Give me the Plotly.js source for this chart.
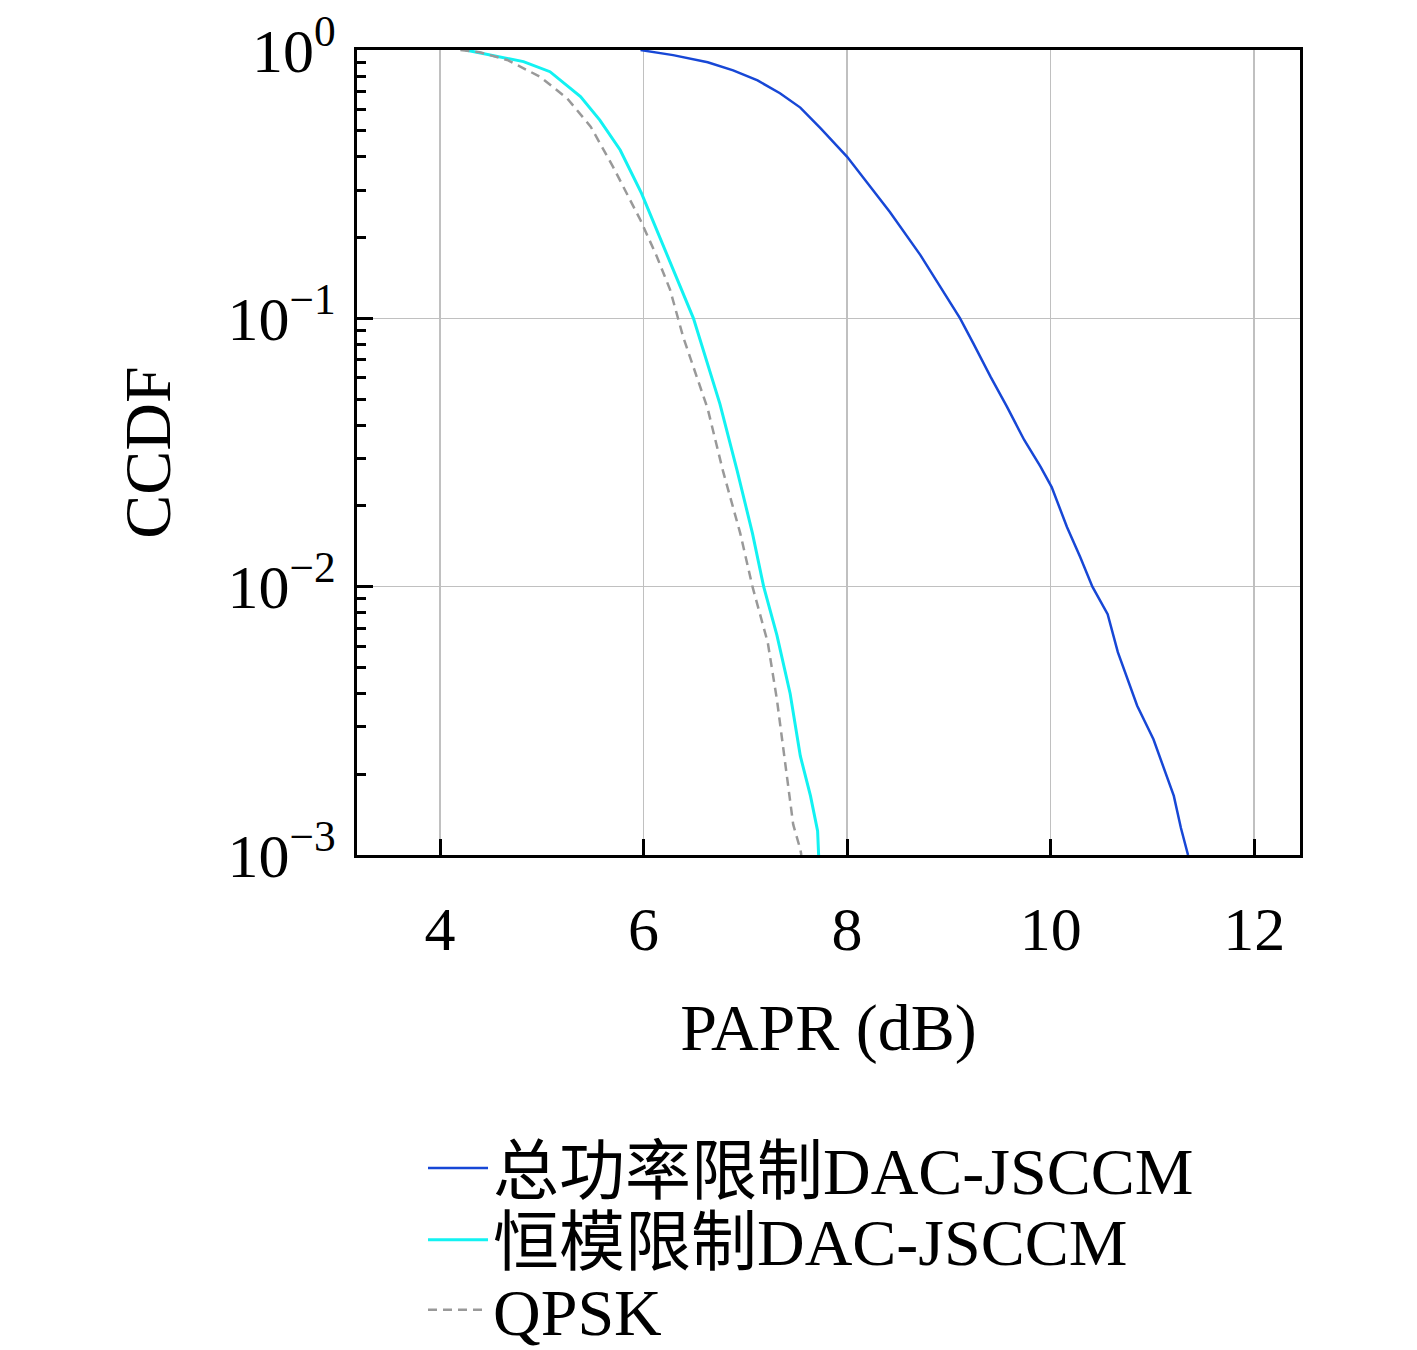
<!DOCTYPE html>
<html>
<head>
<meta charset="utf-8">
<script src="https://cdn.plot.ly/plotly-3.0.1.min.js"></script>
<style>
  body { margin: 0; background: #fff; }
  #chart { width: 1417px; height: 1350px; }
</style>
</head>
<body>
<div id="chart"></div>
<script>
// CCDF of PAPR
const totalPowerX = [5.97, 6.29, 6.63, 6.88, 7.12, 7.34, 7.54, 7.74, 8.0, 8.42, 8.72, 8.89, 9.11, 9.24, 9.41, 9.57, 9.74, 9.9, 10.01, 10.16, 10.29, 10.41, 10.56, 10.66, 10.85, 11.01, 11.11, 11.21, 11.28, 11.35];
const totalPowerY = [0.999, 0.957, 0.9, 0.84, 0.77, 0.69, 0.61, 0.51, 0.4, 0.249, 0.172, 0.136, 0.1, 0.0807, 0.0605, 0.0469, 0.0352, 0.028, 0.0235, 0.0167, 0.0129, 0.01, 0.0079, 0.0057, 0.0036, 0.0027, 0.0021, 0.00166, 0.00126, 0.001];

const constModX = [4.25, 4.49, 4.82, 5.08, 5.38, 5.57, 5.77, 5.98, 6.16, 6.33, 6.49, 6.75, 6.92, 7.07, 7.18, 7.31, 7.44, 7.54, 7.64, 7.71, 7.72];
const constModY = [1.0, 0.957, 0.905, 0.83, 0.67, 0.548, 0.424, 0.292, 0.2, 0.139, 0.1, 0.048, 0.027, 0.0158, 0.01, 0.0066, 0.004, 0.00234, 0.00166, 0.00123, 0.001];

const qpskX = [4.2, 4.39, 4.66, 4.98, 5.25, 5.48, 5.7, 5.97, 6.13, 6.26, 6.39, 6.63, 6.78, 6.95, 7.07, 7.22, 7.31, 7.41, 7.47, 7.54, 7.55];
const qpskY = [1.0, 0.98, 0.918, 0.796, 0.66, 0.518, 0.367, 0.232, 0.17, 0.128, 0.085, 0.046, 0.027, 0.0158, 0.01, 0.0062, 0.0038, 0.002, 0.0013, 0.00105, 0.001];

const seriesNames = ["总功率限制DAC-JSCCM", "恒模限制DAC-JSCCM", "QPSK"];
const xTicks = [4, 6, 8, 10, 12];
const yTicks = [1, 0.1, 0.01, 0.001];
const yTickText = ["10<sup>0</sup>", "10<sup>−1</sup>", "10<sup>−2</sup>", "10<sup>−3</sup>"];

const fontFamily = "Liberation Serif, Noto Sans CJK SC, serif";

const data = [
  {
    x: totalPowerX, y: totalPowerY, name: seriesNames[0],
    type: "scatter", mode: "lines", legend: "legend",
    line: { color: "#1747d6", width: 2.5 },
  },
  {
    x: constModX, y: constModY, name: seriesNames[1],
    type: "scatter", mode: "lines", legend: "legend2",
    line: { color: "#12f2f2", width: 3 },
  },
  {
    x: qpskX, y: qpskY, name: seriesNames[2],
    type: "scatter", mode: "lines", legend: "legend3",
    line: { color: "#999999", width: 2.5, dash: "9px,6px" },
  },
];

function legendAt(y) {
  return {
    x: 0.07, y: y, xanchor: "left", yanchor: "middle",
    font: { size: 66, family: fontFamily },
    bgcolor: "rgba(0,0,0,0)",
    itemwidth: 60,
  };
}

const layout = {
  width: 1417,
  height: 1350,
  paper_bgcolor: "#fff",
  plot_bgcolor: "#fff",
  margin: { l: 357, r: 117, t: 50, b: 495, autoexpand: false },
  font: { family: fontFamily, color: "#000", size: 62 },
  showlegend: true,
  legend: legendAt(-0.389),
  legend2: legendAt(-0.478),
  legend3: legendAt(-0.565),
  xaxis: {
    range: [3.184, 12.45],
    tickvals: xTicks,
    ticks: "inside", ticklen: 16, tickwidth: 3, tickcolor: "#000",
    ticklabelstandoff: 18,
    showline: true, linewidth: 3, linecolor: "#000", mirror: true,
    showgrid: true, gridcolor: "#c0c0c0", gridwidth: 1.5,
    zeroline: false,
    tickfont: { size: 62 },
    title: { text: "PAPR (dB)", font: { size: 66 }, standoff: 42 },
  },
  yaxis: {
    type: "log",
    range: [-3, 0],
    tickvals: yTicks,
    ticktext: yTickText,
    ticks: "inside", ticklen: 16, tickwidth: 3, tickcolor: "#000",
    minor: { ticks: "inside", ticklen: 9, tickwidth: 3, tickcolor: "#000", dtick: "D1", showgrid: false },
    showline: true, linewidth: 3, linecolor: "#000", mirror: true,
    showgrid: true, gridcolor: "#c0c0c0", gridwidth: 1.5,
    zeroline: false,
    tickfont: { size: 62 },
    ticklabelstandoff: 6,
    title: { text: "CCDF", font: { size: 66 }, standoff: 36 },
  },
};

Plotly.newPlot("chart", data, layout, { displayModeBar: false, staticPlot: true });
</script>
</body>
</html>
